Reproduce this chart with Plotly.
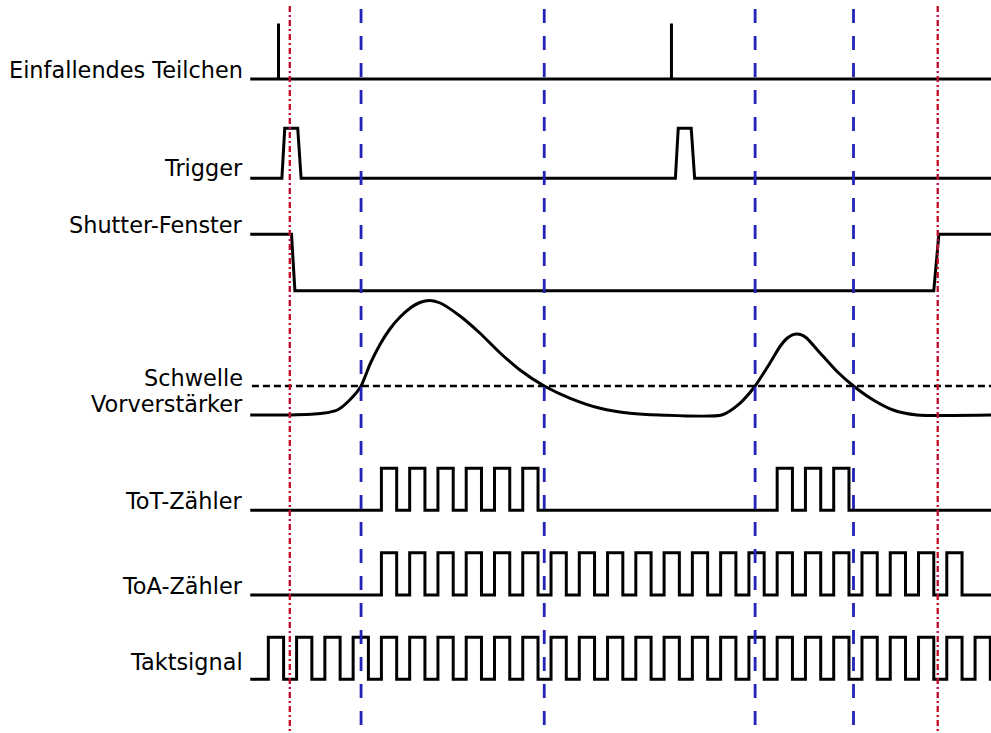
import plotly.graph_objects as go

# ---- time base (ns); 40 MHz reference clock ----
CLOCK_PERIOD = 25.0
CLOCK_HIGH = 13.5
T_START = -16.0
T_END = 645.0

clock_cycles = [0, 1, 2, 3, 4, 5, 6, 7, 8, 9, 10, 11, 12, 13, 14, 15, 16, 17,
                18, 19, 20, 21, 22, 23, 24, 25]
toa_cycles = [4, 5, 6, 7, 8, 9, 10, 11, 12, 13, 14, 15, 16, 17, 18, 19, 20,
              21, 22, 23, 24]
tot_cycles = [4, 5, 6, 7, 8, 9, 18, 19, 20]

# incident particles (arrival times)
particle_hits = [9.0, 356.5]

# trigger pulses: rise start, rise end, fall start, fall end
trigger_pulses = [(12.0, 14.5, 26.0, 29.0), (360.0, 362.5, 374.0, 377.0)]

# shutter window edges (start, end of each transition)
shutter_close = (20.5, 23.5)
shutter_open = (588.5, 593.0)

# preamplifier output (arbitrary units above baseline)
preamp_t = [-16, 20, 48, 61, 72, 82, 90, 99, 107.5, 116.5, 125, 134, 143, 152,
            169.5, 187, 205, 222.5, 244, 267, 293.5, 320, 346, 401, 417, 430.5,
            443.5, 452.5, 459, 463.5, 467.5, 471.5, 476, 488, 502.5, 517.5, 535,
            552.5, 573.5, 645]
preamp_v = [0, 0, 1.7, 5, 15, 29, 51, 71, 86, 98, 106.5, 112.5, 114.5,
            112, 99, 82, 62, 45, 29, 16.7, 6.7, 1.7, 0, 0, 11.7, 29,
            51.7, 68.5, 77, 80.2, 81, 80.2, 77, 62, 44, 29, 15,
            5, 0, 0]
threshold = 29.0

# markers
threshold_crossings = [82.0, 244.0, 430.5, 517.5]
shutter_marks = [19.0, 592.0]

# ---- lane layout: (baseline, height) in plot units ----
LANES = {
    "incident": (654.0, 55.5),
    "trigger": (554.7, 50.0),
    "shutter": (442.3, 56.4),
    "preamp": (318.0, 1.0),
    "tot": (222.7, 42.0),
    "toa": (138.0, 42.3),
    "clock": (53.7, 42.0),
}

labels = [
    ("Einfallendes Teilchen", 654.0),
    ("Trigger", 556.3),
    ("Shutter-Fenster", 499.0),
    ("Schwelle", 345.7),
    ("Vorverstärker", 320.3),
    ("ToT-Zähler", 223.0),
    ("ToA-Zähler", 138.0),
    ("Taktsignal", 62.0),
]

BLACK = "#000000"
BLUE = "#2323b8"
RED = "#c8102e"
LW = 3


def square_wave(cycles):
    xs, ys = [T_START], [0]
    for k in cycles:
        r = k * CLOCK_PERIOD
        f = r + CLOCK_HIGH
        xs += [r, r, f, f]
        ys += [0, 1, 1, 0]
    xs.append(T_END)
    ys.append(0)
    return xs, ys


def place(ys, lane):
    base, h = LANES[lane]
    return [base + v * h for v in ys]


fig = go.Figure()


def add_line(xs, ys, **kw):
    line = dict(color=BLACK, width=LW)
    line.update(kw.pop("line", {}))
    fig.add_trace(go.Scatter(x=xs, y=ys, mode="lines", line=line,
                             hoverinfo="skip", showlegend=False, **kw))


# incident particles: baseline with spikes
xs, ys = [T_START], [0]
for t in particle_hits:
    xs += [t, t, t]
    ys += [0, 1, 0]
xs.append(T_END)
ys.append(0)
add_line(xs, place(ys, "incident"))

# trigger
xs, ys = [T_START], [0]
for a, b, c, d in trigger_pulses:
    xs += [a, b, c, d]
    ys += [0, 1, 1, 0]
xs.append(T_END)
ys.append(0)
add_line(xs, place(ys, "trigger"))

# shutter window (high = closed, low = open)
xs = [T_START, shutter_close[0], shutter_close[1], shutter_open[0],
      shutter_open[1], T_END]
ys = [1, 1, 0, 0, 1, 1]
add_line(xs, place(ys, "shutter"))

# preamplifier output and threshold
add_line(preamp_t, place(preamp_v, "preamp"),
         line=dict(shape="spline", smoothing=0.6))
add_line([-14.5, T_END], place([threshold, threshold], "preamp"),
         line=dict(dash="7px,4px", width=2.5))

# counters and clock
for lane, cyc in (("tot", tot_cycles), ("toa", toa_cycles),
                  ("clock", clock_cycles)):
    xs, ys = square_wave(cyc)
    add_line(xs, place(ys, lane))

# vertical markers
for t in threshold_crossings:
    add_line([t, t], [724, -5], line=dict(color=BLUE, width=2.8,
                                           dash="14px,13px"))
for t in shutter_marks:
    add_line([t, t], [727, -5], line=dict(color=RED, width=2.4,
                                           dash="6px,3px,2px,3px"))

for text, y in labels:
    fig.add_annotation(x=245 / 991, xref="paper", y=y, yref="y",
                       text=text, showarrow=False, xanchor="right",
                       yanchor="bottom", yshift=-6,
                       font=dict(family="DejaVu Sans", size=22.4, color=BLACK))

fig.update_layout(
    width=991, height=733,
    margin=dict(l=0, r=0, t=0, b=0),
    paper_bgcolor="white", plot_bgcolor="white",
    xaxis=dict(range=[-237.3, 639.1], visible=False, fixedrange=True),
    yaxis=dict(range=[0, 733], visible=False, fixedrange=True),
    showlegend=False,
)

fig.write_html("out.html")
